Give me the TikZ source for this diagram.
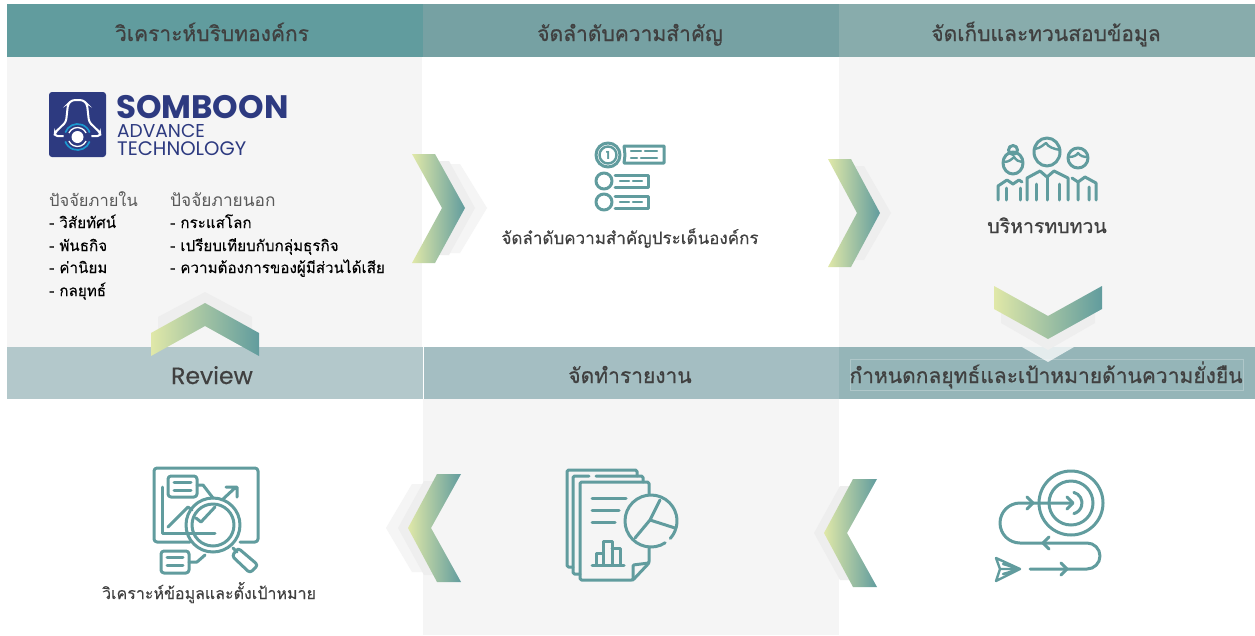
\documentclass[tikz,border=0pt]{standalone}
\usepackage{fontspec}
\newfontfamily\thaifont[Script=Thai]{Loma}
\newfontfamily\thaibold[Script=Thai,FakeBold=0.7]{Loma}
\newfontfamily\thaimid[Script=Thai,FakeBold=0.15]{Loma}
\newfontfamily\latfont{Poppins}
\newfontfamily\latmid[FakeBold=0.5]{Poppins}
\definecolor{teal}{HTML}{619C9E}
\definecolor{navy}{HTML}{2D3A80}
\definecolor{ringblue}{HTML}{1C98D0}
\definecolor{panel}{HTML}{F5F5F5}
\definecolor{shadowa}{HTML}{EEEEEE}
\definecolor{txt}{HTML}{404040}
\definecolor{gradl}{HTML}{E0E8A8}
\definecolor{banda}{HTML}{619C9E}
\definecolor{bandb}{HTML}{76A1A3}
\definecolor{bandc}{HTML}{88ACAC}
\definecolor{bandd}{HTML}{B3C8CB}
\definecolor{bande}{HTML}{A4BEC2}
\definecolor{bandf}{HTML}{95B5B8}
\tikzset{
  chevgrad/.style={shade,left color=gradl,right color=teal,draw=none},
  icon/.style={draw=teal,line width=3pt,line cap=round,line join=round,fill=none},
  thin icon/.style={icon,line width=2.4pt},
  headtxt/.style={anchor=base,text=txt,font=\thaibold\fontsize{21}{24}\selectfont,inner sep=0pt},
  bodytxt/.style={anchor=base,text=txt,font=\thaimid\fontsize{17}{22}\selectfont,inner sep=0pt},
  listtxt/.style={anchor=base west,text=black,font=\thaimid\fontsize{15.2}{20}\selectfont,inner sep=0pt},
  subtxt/.style={anchor=base west,text=black!65,inner sep=0pt},
  logotxt/.style={anchor=base west,text=navy,inner sep=0pt},
}
\begin{document}
\begin{tikzpicture}[x=1pt,y=1pt,yscale=-1]
\useasboundingbox (0,0) rectangle (1255,635);
\fill[white] (0,0) rectangle (1255,635);
% panels
\fill[panel] (7,57) rectangle (422,347);
\fill[panel] (839,57) rectangle (1255,347);
\fill[panel] (423,399) rectangle (839,635);
% header bands
\fill[banda] (7,4) rectangle (423,57);
\fill[bandb] (423,4) rectangle (839,57);
\fill[bandc] (839,4) rectangle (1255,57);
\fill[bandd] (7,347) rectangle (423,399);
\fill[bande] (424,347) rectangle (839,399);
\fill[bandf] (839,347) rectangle (1255,399);
% right chevron 1
\fill[panel] (440,164) -- (460,164) -- (487,208) -- (460,253) -- (440,253) -- (464,208) -- cycle;
\fill[shadowa] (428,161) -- (449,161) -- (475,208) -- (449,255) -- (428,255) -- (452,208) -- cycle;
\path[chevgrad] (412,154) -- (435,154) -- (465,208) -- (435,263) -- (412,263) -- (442,208) -- cycle;
% right chevron 2
\fill[shadowa] (842,166) -- (864,166) -- (891,213) -- (864,260) -- (842,260) -- (868,213) -- cycle;
\path[chevgrad] (828,159) -- (851,159) -- (880,213) -- (851,267) -- (828,267) -- (857,213) -- cycle;
% down chevron
\fill[white,opacity=.75] (1022,347) -- (1048,362) -- (1074,347) -- cycle;
\fill[shadowa] (1001,301) -- (1048,327) -- (1095,301) -- (1095,323) -- (1048,350) -- (1001,323) -- cycle;
\path[chevgrad] (994,286) -- (1048,316) -- (1102,286) -- (1102,309) -- (1048,339) -- (994,309) -- cycle;
% up chevron
\fill[shadowa] (158,317) -- (205,292) -- (252,317) -- (252,340) -- (205,315) -- (158,340) -- cycle;
\path[chevgrad] (151,356) -- (151,333) -- (205,303) -- (259,333) -- (259,356) -- (205,326) -- cycle;
% left chevron 1
\fill[panel] (412,484) -- (386,528) -- (412,572) -- (435,572) -- (409,528) -- (435,484) -- cycle;
\fill[shadowa] (424,481) -- (398,528) -- (424,575) -- (447,575) -- (421,528) -- (447,481) -- cycle;
\path[chevgrad] (437,474) -- (461,474) -- (431,528) -- (461,582) -- (437,582) -- (408,528) -- cycle;
% left chevron 2
\fill[shadowa] (840,486) -- (814,533) -- (840,580) -- (862,580) -- (836,533) -- (862,486) -- cycle;
\path[chevgrad] (853,479) -- (877,479) -- (847,533) -- (877,587) -- (853,587) -- (824,533) -- cycle;
% header texts
\node[headtxt] (h1) at (212,41) {วิเคราะห์บริบทองค์กร};
\node[headtxt] (h2) at (630,41) {จัดลำดับความสำคัญ};
\node[headtxt] (h3) at (1046,41) {จัดเก็บและทวนสอบข้อมูล};
\node[headtxt,font=\latmid\fontsize{23.5}{26}\selectfont] (h4) at (212,384) {Review};
\node[headtxt] (h5) at (630,383) {จัดทำรายงาน};
\draw[white,opacity=.25,line width=.6pt] (850,359) rectangle (1243,390);
\node[headtxt] (h6) at (1046,383) {กำหนดกลยุทธ์และเป้าหมายด้านความยั่งยืน};
% logo
\fill[navy,rounded corners=3pt] (49,92) rectangle (106,157);
\draw[white,line width=2pt,rounded corners=3pt] (54.5,136) -- (55,132.5) -- (66,122) -- (68,104) -- (72,100) -- (83,100) -- (87,104) -- (89,122) -- (100,132.5) -- (100.5,136) -- cycle;
\fill[navy] (77.5,137) circle[radius=14pt];
\draw[ringblue,line width=1.7pt] (77.5,137) ++(200:13pt) arc[start angle=200,end angle=340,radius=13pt];
\draw[ringblue,line width=1.7pt] (77.5,137) ++(20:13pt) arc[start angle=20,end angle=160,radius=13pt];
\draw[white,line width=1.3pt] (77.5,137) ++(205:9.5pt) arc[start angle=205,end angle=335,radius=9.5pt];
\draw[white,line width=1.3pt] (77.5,137) ++(25:9.5pt) arc[start angle=25,end angle=155,radius=9.5pt];
\fill[white] (77.5,137) circle[radius=6pt];
\node[logotxt,font=\latfont\bfseries\fontsize{32.5}{34}\selectfont] (l1) at (116,118) {SOMBOON};
\node[logotxt,font=\latfont\fontsize{18.6}{20}\selectfont] (l2) at (117,137) {ADVANCE};
\node[logotxt,font=\latfont\fontsize{19.6}{20}\selectfont] (l3) at (117,155) {TECHNOLOGY};
% lists
\node[subtxt,font=\thaifont\fontsize{16.5}{20}\selectfont] (a0) at (49,206) {ปัจจัยภายใน};
\node[listtxt] (a1) at (49,228) {- วิสัยทัศน์};
\node[listtxt] (a2) at (49,251) {- พันธกิจ};
\node[listtxt] (a3) at (49,273) {- ค่านิยม};
\node[listtxt] (a4) at (49,296) {- กลยุทธ์};
\node[subtxt,font=\thaifont\fontsize{17.3}{20}\selectfont] (b0) at (170,206) {ปัจจัยภายนอก};
\node[listtxt] (b1) at (170,228) {- กระแสโลก};
\node[listtxt] (b2) at (170,251) {- เปรียบเทียบกับกลุ่มธุรกิจ};
\node[listtxt] (b3) at (170,273) {- ความต้องการของผู้มีส่วนได้เสีย};
% captions
\node[bodytxt] (c1) at (630,244) {จัดลำดับความสำคัญประเด็นองค์กร};
\node[bodytxt,font=\thaibold\fontsize{19.5}{22}\selectfont] (c2) at (1047,233) {บริหารทบทวน};
\node[bodytxt,font=\thaimid\fontsize{16}{22}\selectfont] (c3) at (209,599) {วิเคราะห์ข้อมูลและตั้งเป้าหมาย};
% icon: priority list
\draw[icon] (608,155) circle[radius=12pt];
\draw[thin icon] (608,155) circle[radius=8.5pt];
\node[text=teal,font=\latfont\bfseries\fontsize{11}{11}\selectfont,inner sep=0pt] (one) at (608,155) {1};
\draw[icon] (624,146) -- (664,146) -- (664,163) -- (624,163) (624,146) -- (625,155) -- (624,163);
\draw[thin icon] (631,151) -- (641,151) (645,151) -- (657,151) (631,158) -- (637,158) (641,158) -- (657,158);
\draw[icon] (604,181) circle[radius=8pt] (604,202) circle[radius=8pt];
\draw[icon] (615,175) -- (648,175) -- (648,187) -- (615,187) (615,196) -- (648,196) -- (648,208) -- (615,208);
\draw[thin icon] (620,181) -- (629,181) (633,181) -- (642,181) (620,202) -- (629,202) (633,202) -- (642,202);
% icon: people
\draw[icon] (1047,152) ellipse[x radius=13pt,y radius=14pt];
\draw[thin icon] (1035,149) .. controls (1041,148) and (1044,144) .. (1046,143) .. controls (1048,147) and (1054,149) .. (1060,150);
\draw[icon] (1027,200) -- (1027,178) -- (1040,171) -- (1047,177) -- (1054,171) -- (1068,178) -- (1068,200);
\draw[icon] (1047,177) -- (1047,200) (1036,200) -- (1036,184) (1059,200) -- (1059,184);
\draw[icon] (1013,163) ellipse[x radius=10pt,y radius=11pt] (1013,150) circle[radius=4.5pt];
\draw[thin icon] (1004,162) .. controls (1009,162) and (1012,159) .. (1014,157) .. controls (1016,160) and (1019,162) .. (1022,162);
\draw[icon] (998,200) -- (998,186) -- (1007,180) -- (1013,184) -- (1019,180) -- (1022,182);
\draw[icon] (1006,200) -- (1006,188) (1020,200) -- (1020,188);
\draw[icon] (1078,158) circle[radius=10pt];
\draw[thin icon] (1069,157) .. controls (1074,157) and (1077,155) .. (1078,153) .. controls (1080,156) and (1084,157) .. (1087,157);
\draw[icon] (1096,200) -- (1096,183) -- (1085,177) -- (1078,182) -- (1072,178) (1078,182) -- (1078,200) (1089,200) -- (1089,187);
% icon: analysis
\draw[icon,rounded corners=3pt] (240,542) -- (258,542) -- (258,468) -- (154,468) -- (154,542) -- (190,542);
\draw[icon] (162,487) -- (162,533) -- (215,533);
\draw[icon,rounded corners=3pt] (168,476) rectangle (197,497);
\draw[icon] (174,482) -- (191,482) (174,490) -- (191,490);
\draw[icon] (197,485) -- (203,485) -- (213,498);
\draw[icon] (168,527) -- (188,507) -- (192,510);
\draw[icon] (222,500) -- (236,487) (226,487) -- (237,487) -- (237,497);
\draw[icon] (213,525) circle[radius=27pt] (213,525) circle[radius=21pt];
\draw[icon] (196,518) -- (201,522) -- (215,507);
\draw[icon] (233,548) -- (237,552);
\draw[icon,rounded corners=3pt] (232,556) -- (238,548) -- (258,565) -- (250,573) -- cycle;
\draw[icon,rounded corners=3pt] (161,551) rectangle (189,573);
\draw[icon] (167,557) -- (183,557) (167,565) -- (183,565);
\draw[icon] (189,562) -- (197,562) -- (205,555);
% icon: report
\draw[icon,rounded corners=1.5pt] (649,494) -- (649,482) -- (580,482) -- (580,580) -- (633,580) -- (649,563) -- (649,547);
\draw[icon,rounded corners=1pt] (633,580) -- (633,565) -- (649,563);
\draw[icon,rounded corners=1.5pt] (580,574) -- (573,574) -- (573,476) -- (589,476) (596,476) -- (643,476) -- (643,482);
\draw[icon,rounded corners=1.5pt] (573,567) -- (567,567) -- (567,470) -- (637,470) -- (637,476);
\draw[icon] (592,498) -- (626,498) (592,510) -- (619,510) (592,522) -- (615,522);
\draw[icon] (592,565) -- (624,565) (596,565) -- (596,553) -- (603,553) -- (603,565) (603,553) -- (603,541) -- (612,541) -- (612,565) (612,548) -- (620,548) -- (620,565);
\draw[icon] (651,521) ++(57:26pt) arc[start angle=57,end angle=402,radius=26pt];
\draw[icon] (660,500) -- (650,520) -- (675,528) (650,520) -- (635,538);
% icon: target
\draw[icon] (1071,503) circle[radius=32pt] (1071,503) circle[radius=22pt];
\draw[icon] (1071,503) ++(-75:11pt) arc[start angle=-75,end angle=75,radius=11pt];
\draw[icon] (1030,569) -- (1087,569) arc[start angle=90,end angle=-90,radius=13pt] -- (1020,543) arc[start angle=90,end angle=270,radius=20pt] -- (1071,503);
\draw[icon] (1061,563) -- (1067,569) -- (1061,575) (1049,537) -- (1043,543) -- (1049,549) (1027,497) -- (1033,503) -- (1027,509) (1067,497) -- (1073,503) -- (1067,509);
\draw[thin icon] (1020,569) -- (996,558) -- (1000,569) -- (996,581) -- cycle (1020,569) -- (1000,569) (1020,569) -- (1003,564) (1020,569) -- (1003,574);
\end{tikzpicture}
\end{document}
